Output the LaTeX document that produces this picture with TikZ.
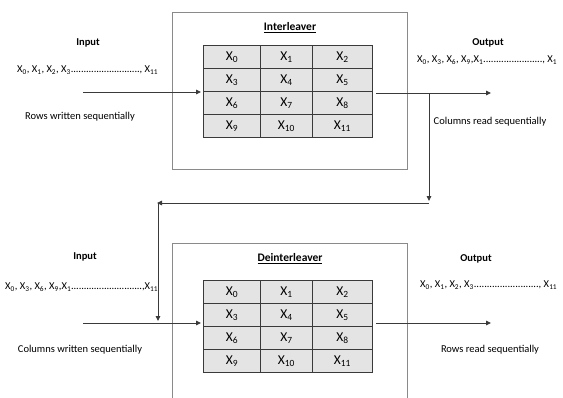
\documentclass[tikz,border=0pt]{standalone}
\usepackage{fontspec}
\setmainfont{Carlito}
\usetikzlibrary{arrows.meta}
\definecolor{cellgray}{HTML}{E4E4E4}
\definecolor{boxgray}{HTML}{8A8A8A}
\definecolor{linegray}{HTML}{3A3A3A}
\newcommand{\xs}[1]{X\textsubscript{#1}}
\newcommand{\dfill}{\xleaders\hbox to 0.24em{\hss.\hss}\hfill}
\newcommand{\seqbox}[3]{\makebox[#1][l]{#2\dfill#3}}
\tikzset{
  lbl/.style={font=\fontsize{10.5}{12}\selectfont, inner sep=0pt},
  hdr/.style={font=\fontsize{10.5}{12}\selectfont\bfseries, inner sep=0pt},
  seq/.style={font=\fontsize{10.5}{12}\selectfont, inner sep=0pt, anchor=west},
  ttl/.style={font=\fontsize{11.5}{13}\selectfont\bfseries, inner sep=0pt},
  cell/.style={draw=linegray, fill=cellgray, line width=0.8pt, minimum width=#1, minimum height=23pt, inner sep=0pt, font=\fontsize{13.5}{14}\selectfont, anchor=north west},
  frame/.style={draw=boxgray, line width=0.9pt},
  conn/.style={draw=linegray, line width=0.9pt, -{Triangle[length=5pt,width=4.5pt]}}
}
\begin{document}
\begin{tikzpicture}[x=1pt,y=-1pt]
\useasboundingbox (0,0) rectangle (563,397);
% top frame
\draw[frame] (172,12) rectangle (407,169);
\node[ttl] (t1) at (290,28) {\underline{Interleaver}};
% bottom frame (cut off)
\draw[frame] (172,405) -- (172,243) -- (407,243) -- (407,405);
\node[ttl] (t2) at (290,259) {\underline{Deinterleaver}};
% tables
\foreach \yy/\tn in {45/a,280/b}{
  \foreach \r in {0,1,2,3}{
    \pgfmathtruncatemacro{\ia}{3*\r}
    \pgfmathtruncatemacro{\ib}{3*\r+1}
    \pgfmathtruncatemacro{\ic}{3*\r+2}
    \node[cell=57pt] (\tn\r0) at (203,\yy+23*\r) {\xs{\ia}};
    \node[cell=52pt] (\tn\r1) at (260,\yy+23*\r) {\xs{\ib}};
    \node[cell=60pt] (\tn\r2) at (312,\yy+23*\r) {\xs{\ic}};
  }
}
% top labels
\node[hdr] (in1) at (88,43) {Input};
\node[seq] (s1) at (17,70) {\seqbox{141pt}{\xs{0}, \xs{1}, \xs{2}, \xs{3}}{, \xs{11}}};
\node[lbl] (r1) at (80,117) {Rows written sequentially};
\node[hdr] (out1) at (488,43) {Output};
\node[seq] (s2) at (417,60) {\seqbox{140pt}{\xs{0}, \xs{3}, \xs{6}, \xs{9},\xs{1}}{, \xs{1}}};
\node[lbl] (c1) at (490,122) {Columns read sequentially};
% bottom labels
\node[hdr] (in2) at (85,257) {Input};
\node[seq] (s3) at (5,287) {\seqbox{153pt}{\xs{0}, \xs{3}, \xs{6}, \xs{9},\xs{1}}{,\xs{11}}};
\node[lbl] (c2) at (80,350) {Columns written sequentially};
\node[hdr] (out2) at (476,259) {Output};
\node[seq] (s4) at (420,285) {\seqbox{137pt}{\xs{0}, \xs{1}, \xs{2}, \xs{3}}{, \xs{11}}};
\node[lbl] (r2) at (490,350) {Rows read sequentially};
% connectors
\coordinate (ia) at (83,92);
\coordinate (ib) at (201,92);
\coordinate (oa) at (376,93);
\coordinate (ob) at (491,93);
\coordinate (d0) at (429,93);
\coordinate (d1) at (429,201);
\coordinate (h0) at (429,203);
\coordinate (h1) at (157,203);
\coordinate (v0) at (158,203);
\coordinate (v1) at (158,321);
\coordinate (ja) at (83,323);
\coordinate (jb) at (201,323);
\coordinate (pa) at (376,323);
\coordinate (pb) at (491,323);
\draw[conn] (ia) -- (ib);
\draw[conn] (oa) -- (ob);
\draw[conn] (d0) -- (d1);
\draw[conn] (h0) -- (h1);
\draw[conn] (v0) -- (v1);
\draw[conn] (ja) -- (jb);
\draw[conn] (pa) -- (pb);
\end{tikzpicture}
\end{document}
